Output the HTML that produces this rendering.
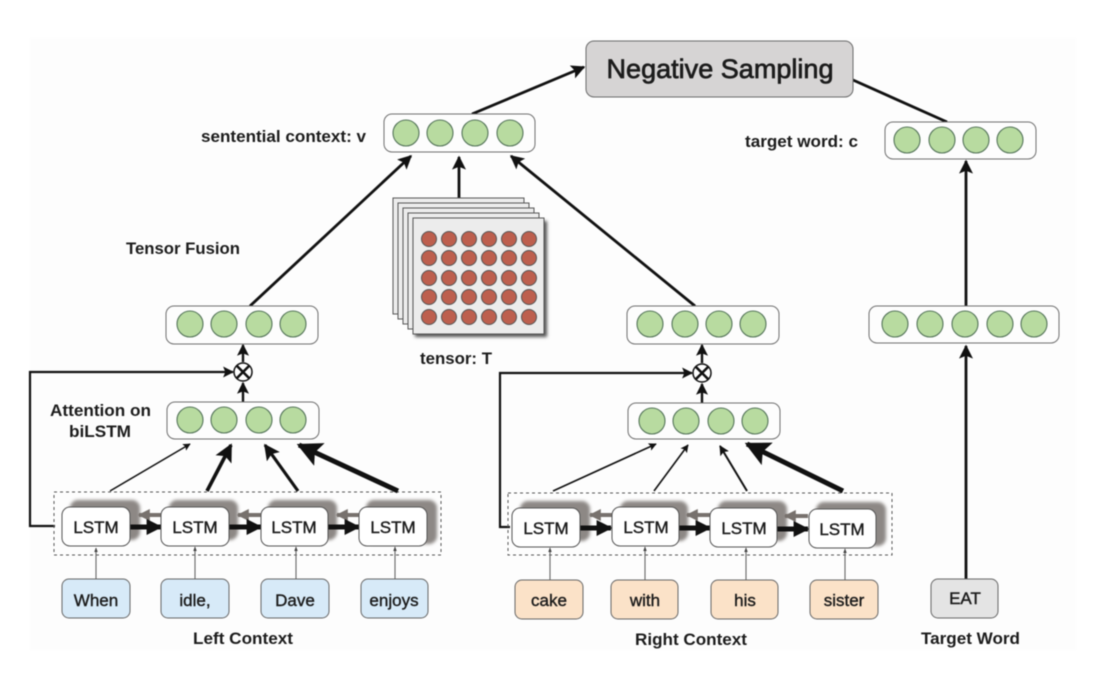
<!DOCTYPE html>
<html><head><meta charset="utf-8"><style>
html,body{margin:0;padding:0;background:#fff;width:1115px;height:674px;overflow:hidden}
svg{display:block;filter:blur(.45px)}
text{font-family:"Liberation Sans",sans-serif;fill:#1c1c1c}
.l{font-weight:bold;font-size:17px}
.m{font-size:17px;text-anchor:middle;stroke:#1c1c1c;stroke-width:.4px}
.a{fill:none;stroke:#111;marker-end:url(#h)}
.k{fill:none;stroke:#111;marker-end:url(#k)}
.n{fill:none;stroke:#111}
.t{fill:none;stroke:#666;stroke-width:1.1;marker-end:url(#s)}
.v{fill:#fdfdfd;stroke:#6f6f6f;stroke-width:1}
.c{fill:#b8dba0;stroke:#55755a;stroke-width:1.1}
.b{fill:#fff;stroke:#555;stroke-width:1}
.sh{fill:#8d8885;filter:url(#bl)}
.w1{fill:#d7eaf8;stroke:#666}
.w2{fill:#fbe2c8;stroke:#666}
.p{fill:#ececec;stroke:#555;stroke-width:1}
.r{fill:#bd5f4e;stroke:#555;stroke-width:1}
.d{fill:none;stroke:#555;stroke-width:1;stroke-dasharray:3 3}
.g{fill:none;stroke:#77716d;stroke-width:4;marker-end:url(#g)}
</style></head><body>
<svg width="1115" height="674" viewBox="0 0 1115 674" xmlns="http://www.w3.org/2000/svg">
<defs>
<marker id="h" viewBox="0 0 10 10" refX="9" refY="5" markerWidth="5" markerHeight="5" orient="auto-start-reverse"><path d="M0 0L10 5L0 10L2 5Z" fill="#111"/></marker>
<marker id="k" viewBox="0 0 10 10" refX="9" refY="5" markerWidth="3.2" markerHeight="3.2" orient="auto"><path d="M0 0L10 5L0 10Z" fill="#111"/></marker>
<marker id="s" viewBox="0 0 10 10" refX="9" refY="5" markerWidth="4" markerHeight="4" orient="auto"><path d="M0 1L10 5L0 9Z" fill="#444"/></marker>
<marker id="g" viewBox="0 0 10 10" refX="9" refY="5" markerWidth="3" markerHeight="3" orient="auto"><path d="M0 0L10 5L0 10Z" fill="#77716d"/></marker>
<filter id="bl" x="-20%" y="-20%" width="140%" height="140%"><feGaussianBlur stdDeviation="1.6"/></filter>
</defs>
<rect x="30" y="38" width="1046" height="612" fill="#fdfdfd"/>

<!-- main connectors -->
<g>
<path class="a" stroke-width="2.8" d="M472 114L584 67"/>
<path class="n" stroke-width="2.8" d="M853 80L947 122"/>
<path class="a" stroke-width="2.8" d="M250 306L411 156"/>
<path class="a" stroke-width="2.8" d="M459 198L459 157"/>
<path class="a" stroke-width="2.8" d="M695 306L511 156"/>
<path class="a" stroke-width="2.8" d="M966 306L966 161"/>
<path class="a" stroke-width="2.8" d="M966 579L966 346"/>
<path class="a" stroke-width="2.4" d="M243 362L243 345"/>
<path class="a" stroke-width="2.4" d="M243 402L243 383"/>
<path class="a" stroke-width="2.4" d="M702 363L702 345"/>
<path class="a" stroke-width="2.4" d="M702 403L702 384"/>
<path class="a" stroke-width="2.2" d="M55 526L30 526L30 372L233 372"/>
<path class="a" stroke-width="2.2" d="M510 527L500 527L500 373L692 373"/>
</g>

<!-- dashed containers -->
<rect class="d" x="54" y="492" width="387" height="63"/>
<rect class="d" x="508" y="493" width="384" height="62"/>

<!-- attention arrows -->
<path class="a" stroke-width="1.5" d="M110 491L190 444"/>
<path class="a" stroke-width="3.6" d="M207 491L231 445"/>
<path class="a" stroke-width="3.2" d="M298 491L265 445"/>
<path class="a" stroke-width="5" d="M398 491L299 445"/>
<path class="a" stroke-width="1.6" d="M553 491L656 444"/>
<path class="a" stroke-width="1.6" d="M654 491L688 445"/>
<path class="a" stroke-width="2" d="M747 491L720 446"/>
<path class="a" stroke-width="5" d="M843 491L747 444"/>

<!-- tensor -->
<g>
<rect class="p" x="393" y="198" width="131" height="116"/>
<rect class="p" x="398" y="203" width="131" height="116"/>
<rect class="p" x="403" y="208" width="131" height="116"/>
<rect class="p" x="408" y="213" width="131" height="116"/>
<rect x="415" y="221" width="132" height="116" fill="#555" filter="url(#bl)"/>
<rect class="p" x="413" y="218" width="131" height="116"/>
<g>
<circle class="r" cx="429" cy="239" r="7.5"/><circle class="r" cx="449" cy="239" r="7.5"/><circle class="r" cx="469" cy="239" r="7.5"/><circle class="r" cx="489" cy="239" r="7.5"/><circle class="r" cx="509" cy="239" r="7.5"/><circle class="r" cx="529" cy="239" r="7.5"/>
<circle class="r" cx="429" cy="258" r="7.5"/><circle class="r" cx="449" cy="258" r="7.5"/><circle class="r" cx="469" cy="258" r="7.5"/><circle class="r" cx="489" cy="258" r="7.5"/><circle class="r" cx="509" cy="258" r="7.5"/><circle class="r" cx="529" cy="258" r="7.5"/>
<circle class="r" cx="429" cy="278" r="7.5"/><circle class="r" cx="449" cy="278" r="7.5"/><circle class="r" cx="469" cy="278" r="7.5"/><circle class="r" cx="489" cy="278" r="7.5"/><circle class="r" cx="509" cy="278" r="7.5"/><circle class="r" cx="529" cy="278" r="7.5"/>
<circle class="r" cx="429" cy="297" r="7.5"/><circle class="r" cx="449" cy="297" r="7.5"/><circle class="r" cx="469" cy="297" r="7.5"/><circle class="r" cx="489" cy="297" r="7.5"/><circle class="r" cx="509" cy="297" r="7.5"/><circle class="r" cx="529" cy="297" r="7.5"/>
<circle class="r" cx="429" cy="317" r="7.5"/><circle class="r" cx="449" cy="317" r="7.5"/><circle class="r" cx="469" cy="317" r="7.5"/><circle class="r" cx="489" cy="317" r="7.5"/><circle class="r" cx="509" cy="317" r="7.5"/><circle class="r" cx="529" cy="317" r="7.5"/>
</g>
</g>

<!-- Negative sampling -->
<rect x="586" y="41" width="267" height="56" rx="8" fill="#d6d4d4" stroke="#6a6a6a" stroke-width="1"/>
<text x="720" y="78" font-size="27" text-anchor="middle" textLength="227" lengthAdjust="spacingAndGlyphs" stroke="#1c1c1c" stroke-width=".7">Negative Sampling</text>

<!-- vectors -->
<rect class="v" x="384" y="114" width="151" height="38" rx="8"/>
<circle class="c" cx="406" cy="133" r="13"/><circle class="c" cx="440" cy="133" r="13"/><circle class="c" cx="475" cy="133" r="13"/><circle class="c" cx="510" cy="133" r="13"/>

<rect class="v" x="885" y="122" width="151" height="37" rx="8"/>
<circle class="c" cx="907" cy="140" r="13"/><circle class="c" cx="942" cy="140" r="13"/><circle class="c" cx="976" cy="140" r="13"/><circle class="c" cx="1010" cy="140" r="13"/>

<rect class="v" x="166" y="306" width="152" height="38" rx="8"/>
<circle class="c" cx="190" cy="324" r="13"/><circle class="c" cx="224" cy="324" r="13"/><circle class="c" cx="259" cy="324" r="13"/><circle class="c" cx="293" cy="324" r="13"/>

<rect class="v" x="167" y="402" width="152" height="37" rx="8"/>
<circle class="c" cx="190" cy="420" r="13"/><circle class="c" cx="224" cy="420" r="13"/><circle class="c" cx="259" cy="420" r="13"/><circle class="c" cx="293" cy="420" r="13"/>

<rect class="v" x="627" y="306" width="152" height="38" rx="8"/>
<circle class="c" cx="650" cy="324" r="13"/><circle class="c" cx="685" cy="324" r="13"/><circle class="c" cx="719" cy="324" r="13"/><circle class="c" cx="753" cy="324" r="13"/>

<rect class="v" x="628" y="403" width="152" height="36" rx="8"/>
<circle class="c" cx="652" cy="421" r="13"/><circle class="c" cx="686" cy="421" r="13"/><circle class="c" cx="721" cy="421" r="13"/><circle class="c" cx="755" cy="421" r="13"/>

<rect class="v" x="869" y="306" width="190" height="37" rx="8"/>
<circle class="c" cx="895" cy="324" r="13"/><circle class="c" cx="930" cy="324" r="13"/><circle class="c" cx="965" cy="324" r="13"/><circle class="c" cx="1000" cy="324" r="13"/><circle class="c" cx="1034" cy="324" r="13"/>

<!-- otimes -->
<g fill="#fff" stroke="#111" stroke-width="1.5">
<circle cx="243" cy="372" r="9"/><path d="M237 366L249 378M249 366L237 378" stroke-width="2.6"/>
<circle cx="702" cy="373" r="9"/><path d="M696 367L708 379M708 367L696 379" stroke-width="2.6"/>
</g>

<!-- LSTM left -->
<g>
<rect class="sh" x="70" y="500" width="70" height="40" rx="8"/>
<rect class="sh" x="169" y="500" width="69" height="40" rx="8"/>
<rect class="sh" x="268" y="500" width="69" height="40" rx="8"/>
<rect class="sh" x="366" y="500" width="71" height="44" rx="8"/>
<path class="g" d="M161 515L139 515"/><path class="g" d="M261 515L238 515"/><path class="g" d="M359 515L337 515"/>
<path class="k" stroke-width="5" d="M130 527L161 527"/><path class="k" stroke-width="5" d="M229 527L261 527"/><path class="k" stroke-width="5" d="M328 527L359 527"/>
<rect class="b" x="62" y="507" width="68" height="39" rx="8"/>
<rect class="b" x="161" y="507" width="68" height="39" rx="8"/>
<rect class="b" x="261" y="507" width="67" height="39" rx="8"/>
<rect class="b" x="359" y="507" width="68" height="39" rx="8"/>
<text class="m" x="96" y="533">LSTM</text><text class="m" x="195" y="533">LSTM</text><text class="m" x="294" y="533">LSTM</text><text class="m" x="393" y="533">LSTM</text>
</g>

<!-- LSTM right -->
<g>
<rect class="sh" x="520" y="501" width="70" height="40" rx="8"/>
<rect class="sh" x="620" y="501" width="68" height="40" rx="8"/>
<rect class="sh" x="718" y="501" width="69" height="40" rx="8"/>
<rect class="sh" x="816" y="502" width="70" height="44" rx="8"/>
<path class="g" d="M612 515L590 515"/><path class="g" d="M710 515L687 515"/><path class="g" d="M808 516L785 516"/>
<path class="k" stroke-width="5" d="M580 528L611 528"/><path class="k" stroke-width="5" d="M679 528L710 528"/><path class="k" stroke-width="5" d="M777 529L808 529"/>
<rect class="b" x="512" y="508" width="68" height="39" rx="8"/>
<rect class="b" x="612" y="507" width="67" height="39" rx="8"/>
<rect class="b" x="710" y="508" width="67" height="39" rx="8"/>
<rect class="b" x="809" y="509" width="67" height="39" rx="8"/>
<text class="m" x="546" y="534">LSTM</text><text class="m" x="646" y="533">LSTM</text><text class="m" x="744" y="534">LSTM</text><text class="m" x="842" y="535">LSTM</text>
</g>

<!-- word arrows -->
<path class="t" d="M96 579L96 548"/><path class="t" d="M195 579L195 547"/><path class="t" d="M296 579L296 547"/><path class="t" d="M395 579L395 547"/>
<path class="t" d="M550 580L550 548"/><path class="t" d="M645 580L645 547"/><path class="t" d="M746 580L746 548"/><path class="t" d="M845 580L845 549"/>

<!-- words -->
<rect class="w1" x="62" y="579" width="68" height="39" rx="7"/><rect class="w1" x="161" y="579" width="68" height="39" rx="7"/><rect class="w1" x="261" y="579" width="68" height="39" rx="7"/><rect class="w1" x="361" y="579" width="67" height="39" rx="7"/>
<text class="m" x="96" y="606">When</text><text class="m" x="195" y="606">idle,</text><text class="m" x="295" y="606">Dave</text><text class="m" x="394" y="606">enjoys</text>

<rect class="w2" x="515" y="580" width="68" height="39" rx="7"/><rect class="w2" x="611" y="580" width="67" height="39" rx="7"/><rect class="w2" x="711" y="580" width="67" height="39" rx="7"/><rect class="w2" x="810" y="580" width="68" height="39" rx="7"/>
<text class="m" x="549" y="606">cake</text><text class="m" x="645" y="606">with</text><text class="m" x="745" y="606">his</text><text class="m" x="844" y="606">sister</text>

<rect x="931" y="579" width="67" height="39" rx="7" fill="#e4e4e4" stroke="#666"/>
<text class="m" x="965" y="604">EAT</text>

<!-- labels -->
<text class="l" x="201" y="142" textLength="165" lengthAdjust="spacingAndGlyphs">sentential context: v</text>
<text class="l" x="745" y="147" textLength="113" lengthAdjust="spacingAndGlyphs">target word: c</text>
<text class="l" x="126" y="254" textLength="114" lengthAdjust="spacingAndGlyphs">Tensor Fusion</text>
<text class="l" x="50" y="416" textLength="101" lengthAdjust="spacingAndGlyphs">Attention on</text>
<text class="l" x="69" y="437" textLength="62" lengthAdjust="spacingAndGlyphs">biLSTM</text>
<text class="l" x="420" y="364" textLength="72" lengthAdjust="spacingAndGlyphs">tensor: T</text>
<text class="l" x="193" y="644" textLength="100" lengthAdjust="spacingAndGlyphs">Left Context</text>
<text class="l" x="635" y="645" textLength="112" lengthAdjust="spacingAndGlyphs">Right Context</text>
<text class="l" x="921" y="644" textLength="99" lengthAdjust="spacingAndGlyphs">Target Word</text>
</svg>
</body></html>
